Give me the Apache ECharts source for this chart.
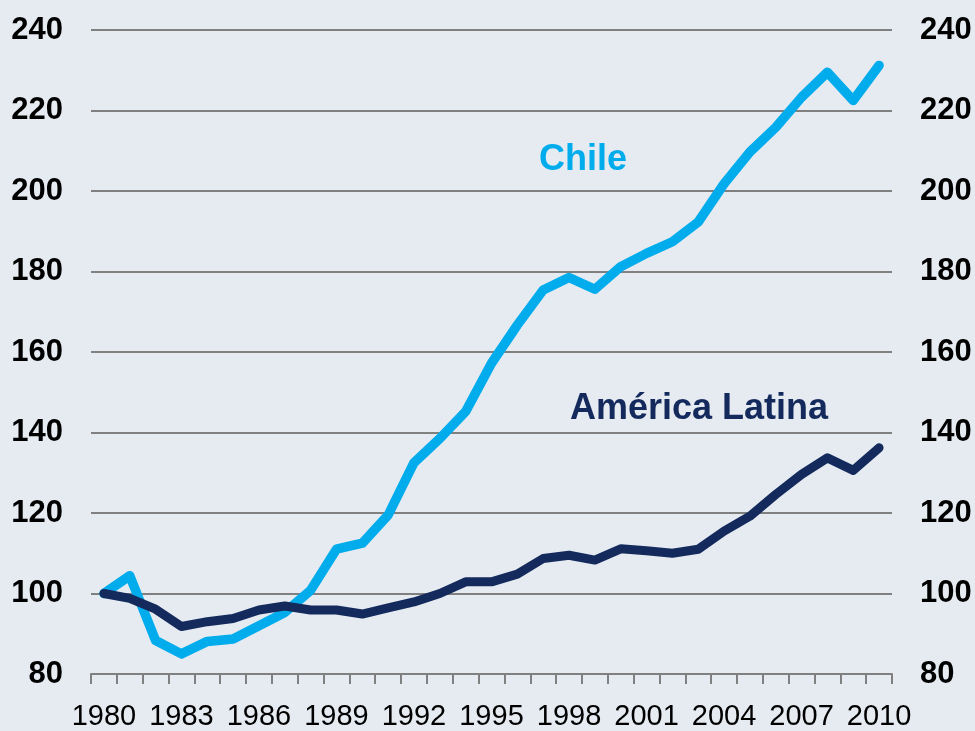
<!DOCTYPE html>
<html>
<head>
<meta charset="utf-8">
<script src="https://cdn.jsdelivr.net/npm/echarts@6/dist/echarts.min.js"></script>
<style>
html, body { margin: 0; padding: 0; background: #e6ebf2; }
#main { width: 975px; height: 731px; }
</style>
</head>
<body>
<div id="main"></div>
<script>
var years = [];
for (var y = 1980; y <= 2010; y++) years.push(String(y));

// indice 1980 = 100
var chile = [100, 104.4, 88.3, 85.0, 88.1, 88.7, 92.0, 95.3, 100.8, 111.0,
             112.5, 119.5, 132.5, 138.5, 145.2, 157.2, 166.7, 175.4, 178.5, 175.6,
             181.2, 184.5, 187.4, 192.3, 201.8, 209.7, 215.8, 223.3, 229.5, 222.5, 231.2];
var latam = [100, 98.8, 96.1, 91.8, 93.0, 93.8, 95.9, 96.9, 95.9, 95.9,
             94.9, 96.4, 97.9, 100.0, 102.9, 102.9, 104.8, 108.7, 109.5, 108.3,
             111.1, 110.6, 110.0, 111.0, 115.5, 119.2, 124.6, 129.6, 133.7, 130.6, 136.2];

var yMin = 80, yMax = 240, yStep = 20;
var font = '"Liberation Sans", Arial, sans-serif';
var gridGrey = '#808080';

var chart = echarts.init(document.getElementById('main'));

var yAxisBase = function (pos) {
    return {
        type: 'value',
        position: pos,
        min: yMin,
        max: yMax,
        interval: yStep,
        axisLine: { show: false },
        axisTick: { show: false },
        splitLine: { show: pos == 'left', lineStyle: { color: gridGrey, width: 2 } },
        axisLabel: {
            margin: 28,
            color: '#000',
            fontSize: 31,
            fontWeight: 'bold',
            fontFamily: font
        }
    };
};

chart.setOption({
    backgroundColor: '#e6ebf2',
    animation: false,
    grid: { left: 91, right: 83, top: 30, bottom: 56, containLabel: false },
    xAxis: {
        type: 'category',
        data: years,
        boundaryGap: true,
        axisLine: { lineStyle: { color: gridGrey, width: 2 } },
        axisTick: { show: true, interval: 0, length: 10, lineStyle: { color: gridGrey, width: 2 } },
        axisLabel: {
            interval: 2,
            margin: 28,
            color: '#000',
            fontSize: 29,
            fontFamily: font
        }
    },
    yAxis: [yAxisBase('left'), yAxisBase('right')],
    series: [
        {
            name: 'Chile',
            type: 'line',
            data: chile,
            showSymbol: false,
            symbol: 'none',
            lineStyle: { color: '#00acec', width: 9.5, cap: 'round', join: 'round' },
            z: 2
        },
        {
            name: 'América Latina',
            type: 'line',
            data: latam,
            showSymbol: false,
            symbol: 'none',
            lineStyle: { color: '#142a5c', width: 9, cap: 'round', join: 'round' },
            z: 3
        }
    ],
    graphic: [
        {
            type: 'text', left: 539, top: 142,
            style: { text: 'Chile', fill: '#00acec', font: 'bold 36px ' + font }
        },
        {
            type: 'text', left: 570, top: 391,
            style: { text: 'América Latina', fill: '#142a5c', font: 'bold 36px ' + font }
        }
    ]
});
</script>
</body>
</html>
